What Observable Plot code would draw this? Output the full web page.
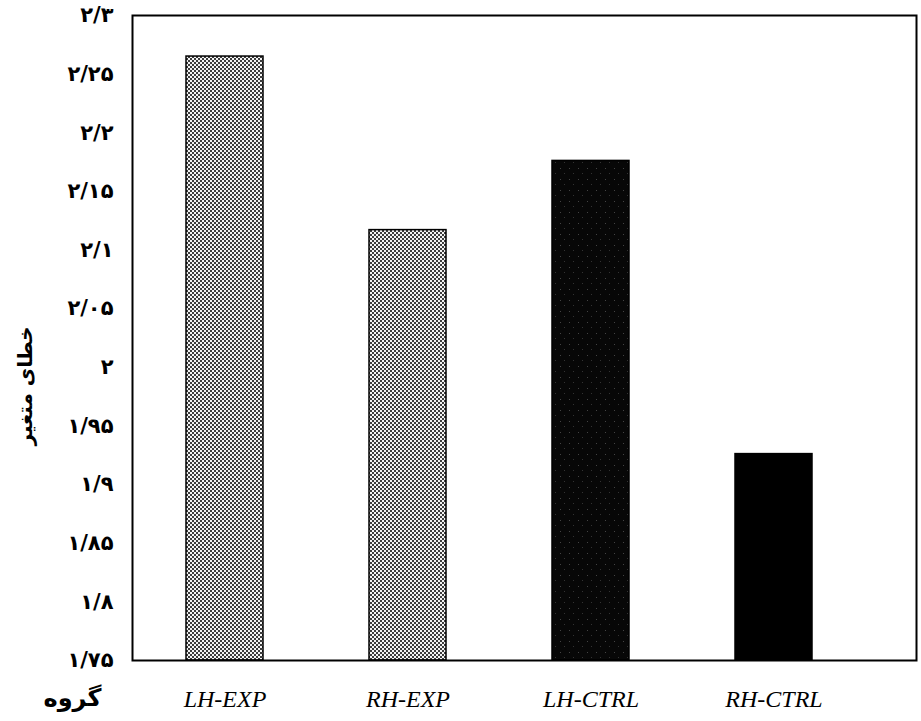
<!DOCTYPE html>
<html>
<head>
<meta charset="utf-8">
<script src="https://cdn.jsdelivr.net/npm/d3@7"></script>
<script src="https://cdn.jsdelivr.net/npm/@observablehq/plot@0.6"></script>
<style>
  body { margin: 0; background: #fff; }
  svg { display: block; }
</style>
</head>
<body>
<div id="chart"></div>
<script>
const groups = ["LH-EXP", "RH-EXP", "LH-CTRL", "RH-CTRL"];
const values = [2.265, 2.117, 2.176, 1.926];
const yTicks = [1.75, 1.8, 1.85, 1.9, 1.95, 2, 2.05, 2.1, 2.15, 2.2, 2.25, 2.3];
const yTickLabels = ["۱/۷۵", "۱/۸", "۱/۸۵", "۱/۹", "۱/۹۵", "۲", "۲/۰۵", "۲/۱", "۲/۱۵", "۲/۲", "۲/۲۵", "۲/۳"];
const yLabel = "خطای متغیر";
const xLabel = "گروه";

const data = groups.map((g, i) => ({group: g, value: values[i]}));
const fillFor = g => g.endsWith("EXP") ? "url(#stippleLight)" : (g === "LH-CTRL" ? "url(#stippleDark)" : "#000");

const plot = Plot.plot({
  width: 921,
  height: 721,
  marginTop: 15,
  marginBottom: 61,
  marginLeft: 132,
  marginRight: 5,
  style: {background: "#fff", color: "#000"},
  x: {domain: groups, range: [185, 812], paddingInner: 0.58, paddingOuter: 0, align: 0.5, label: null},
  y: {domain: [yTicks[0], yTicks[yTicks.length - 1]], label: null},
  color: {type: "identity"},
  marks: [
    Plot.barY(data, {x: "group", y1: yTicks[0], y2: "value", fill: d => fillFor(d.group), stroke: "#000", strokeWidth: 1.5}),
    Plot.frame({stroke: "#000", strokeWidth: 2}),
    Plot.axisY({ticks: yTicks, tickFormat: (d, i) => yTickLabels[yTicks.indexOf(d)], tickSize: 0, tickPadding: 19,
      fontSize: 21, fontWeight: "bold", fontFamily: "DejaVu Sans", label: null}),
    Plot.axisX({tickSize: 0, tickPadding: 29, fontSize: 24, fontStyle: "italic", fontFamily: "Liberation Serif", label: null}),
    Plot.text([yLabel], {frameAnchor: "left", textAnchor: "middle", dx: -107, dy: 48, rotate: -90, text: d => d, fontSize: 20, fontWeight: "bold", fontFamily: "DejaVu Sans", fill: "#000"}),
    Plot.text([xLabel], {frameAnchor: "bottom-left", textAnchor: "middle", dx: -60, dy: 45, text: d => d, fontSize: 24, fontWeight: "bold", fontFamily: "DejaVu Sans", fill: "#000"})
  ]
});

const svg = d3.select(plot);
const defs = svg.insert("defs", ":first-child");
const pl = defs.append("pattern").attr("id", "stippleLight").attr("patternUnits", "userSpaceOnUse").attr("width", 4).attr("height", 4);
pl.append("rect").attr("width", 4).attr("height", 4).attr("fill", "#f4f4f4");
pl.append("circle").attr("cx", 1).attr("cy", 1).attr("r", 1.0).attr("fill", "#000");
pl.append("circle").attr("cx", 3).attr("cy", 3).attr("r", 1.0).attr("fill", "#000");
const pd = defs.append("pattern").attr("id", "stippleDark").attr("patternUnits", "userSpaceOnUse").attr("width", 9).attr("height", 11);
pd.append("rect").attr("width", 9).attr("height", 11).attr("fill", "#070707");
pd.append("rect").attr("x", 2).attr("y", 3).attr("width", 1).attr("height", 1).attr("fill", "#444");
pd.append("rect").attr("x", 6).attr("y", 8).attr("width", 1).attr("height", 1).attr("fill", "#333");

document.getElementById("chart").appendChild(plot);
</script>
</body>
</html>
